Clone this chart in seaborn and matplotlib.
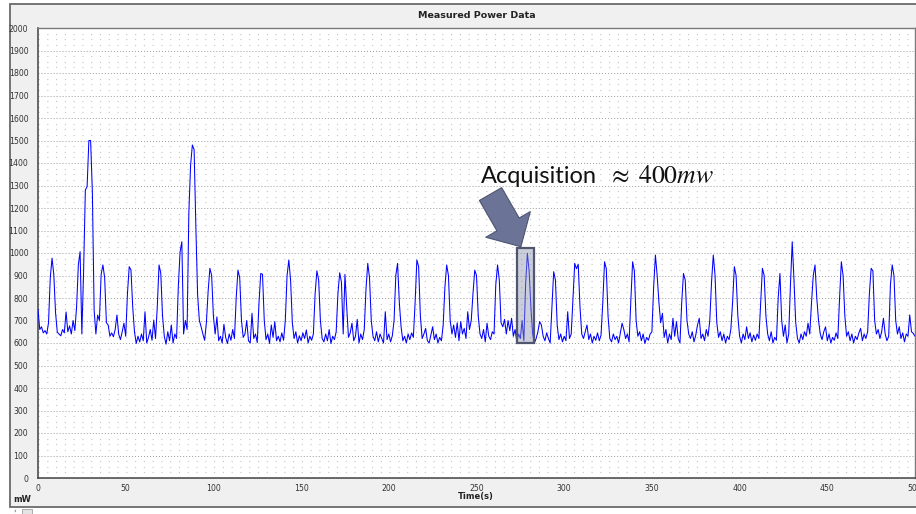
import numpy as np
import pandas as pd
import seaborn as sns
import matplotlib
matplotlib.use("Agg")
import matplotlib.pyplot as plt
from matplotlib.patches import Rectangle, FancyArrowPatch, ArrowStyle

# ---------------- data (1 sample per second) ----------------
time_s = list(range(0, 501))
power_mw = [
    750, 660, 672, 645, 655, 640, 690, 890, 977, 905,
    735, 648, 640, 632, 660, 645, 738, 650, 676, 640,
    700, 655, 760, 947, 1006, 640, 920, 1280, 1295, 1500,
    1500, 1270, 746, 640, 724, 700, 905, 947, 890, 690,
    680, 630, 645, 628, 660, 724, 640, 615, 650, 688,
    630, 820, 939, 925, 760, 650, 598, 630, 605, 640,
    610, 739, 600, 625, 660, 612, 702, 620, 760, 947,
    910, 720, 630, 595, 650, 610, 680, 600, 640, 620,
    850, 1005, 1050, 640, 700, 660, 1180, 1390, 1480, 1460,
    1115, 813, 700, 672, 640, 612, 690, 830, 932, 900,
    720, 640, 716, 610, 630, 600, 683, 625, 598, 640,
    612, 660, 620, 800, 924, 890, 700, 625, 640, 700,
    610, 600, 732, 620, 640, 602, 780, 909, 905, 700,
    615, 640, 598, 680, 625, 695, 610, 630, 605, 645,
    612, 700, 900, 969, 880, 690, 620, 650, 600, 632,
    610, 645, 620, 658, 600, 630, 612, 640, 820, 921,
    880, 700, 620, 605, 640, 610, 660, 598, 630, 615,
    650, 820, 912, 870, 640, 905, 760, 625, 645, 688,
    610, 630, 705, 600, 640, 615, 660, 840, 954, 890,
    700, 630, 610, 650, 605, 640, 620, 600, 739, 615,
    640, 605, 632, 700, 900, 954, 780, 672, 610, 630,
    600, 640, 615, 645, 625, 780, 969, 940, 720, 620,
    640, 665, 610, 600, 635, 672, 615, 640, 600, 625,
    610, 680, 850, 947, 900, 700, 640, 680, 625, 690,
    610, 695, 640, 665, 620, 739, 660, 700, 820, 924,
    900, 720, 640, 620, 660, 605, 688, 630, 615, 650,
    640, 860, 947, 880, 690, 672, 705, 640, 700, 655,
    710, 630, 660, 605, 640, 620, 700, 610, 860, 999,
    920, 760, 640, 600, 620, 650, 695, 680, 630, 610,
    645, 620, 600, 760, 917, 880, 680, 615, 640, 605,
    630, 610, 739, 620, 640, 800, 954, 930, 950, 760,
    640, 620, 650, 680, 615, 640, 600, 630, 612, 645,
    610, 635, 780, 961, 930, 720, 620, 605, 640, 615,
    630, 600, 645, 688, 660, 620, 640, 605, 790, 961,
    920, 700, 630, 650, 610, 640, 598, 625, 612, 640,
    650, 850, 991, 900, 780, 690, 732, 625, 660, 600,
    640, 615, 710, 630, 695, 620, 600, 780, 909, 880,
    700, 640, 620, 650, 605, 635, 680, 710, 620, 640,
    610, 660, 630, 700, 870, 991, 900, 690, 625, 650,
    610, 640, 600, 630, 615, 660, 780, 939, 900, 720,
    630, 600, 640, 615, 672, 620, 645, 605, 635, 612,
    640, 620, 780, 932, 900, 720, 640, 610, 650, 600,
    625, 612, 800, 909, 700, 630, 680, 600, 640, 860,
    1050, 880, 690, 620, 600, 640, 615, 650, 630, 688,
    640, 780, 900, 947, 800, 700, 640, 615, 650, 672,
    610, 640, 600, 625, 612, 645, 620, 800, 961, 900,
    720, 630, 650, 610, 640, 600, 630, 615, 645, 665,
    610, 640, 620, 650, 820, 932, 920, 700, 640, 660,
    620, 650, 710, 640, 610, 630, 860, 947, 900, 700,
    640, 672, 620, 645, 605, 640, 630, 725, 650, 643,
    630,
]

x_ticks = list(range(0, 501, 50))
y_ticks = list(range(0, 2001, 100))

title_text = "Measured Power Data"
x_label = "Time(s)"
y_unit = "mW"
note_word = "Acquisition"
note_math = r"$\approx\;400mw$"

# highlighted acquisition window
acq_t = (273.0, 282.7)
acq_v = (600.0, 1021.0)

df = pd.DataFrame({"t": time_s, "p": power_mw})

# ---------------- figure ----------------
sns.set_style("white")
plt.rcParams["font.family"] = ["DejaVu Sans"]
plt.rcParams["mathtext.fontset"] = "stix"

W, H = 916, 514
fig = plt.figure(figsize=(W / 100, H / 100), dpi=100)
fig.patch.set_facecolor("white")

# grey panel with frame (behind the axes)
panel = Rectangle((10 / W, 1 - 507 / H), 1.0, (507 - 4) / H, transform=fig.transFigure,
                  facecolor="#f0f0f0", edgecolor="#6a6a6a", linewidth=1.3, zorder=-10)
fig.add_artist(panel)
fig.add_artist(Rectangle((22 / W, 1 - 514 / H), 10 / W, 5 / H, transform=fig.transFigure,
                         facecolor="#e4e4e4", edgecolor="#a0a0a0", linewidth=0.6, zorder=-9))
fig.text(15 / W, 1 - 511 / H, "‹", fontsize=5, color="#555555", ha="center", va="center")

ax = fig.add_axes([38 / W, (H - 478) / H, 877 / W, 450 / H])
ax.set_zorder(1)
ax.set_facecolor("white")

sns.lineplot(data=df, x="t", y="p", ax=ax, color="#0000ff", linewidth=0.75,
             estimator=None, zorder=3)

ax.set_xlim(0, 500)
ax.set_ylim(0, 2000)
ax.set_xticks(x_ticks)
ax.set_xticklabels([str(v) for v in x_ticks])
ax.set_yticks(y_ticks)
ax.set_yticklabels([str(v) for v in y_ticks])
ax.set_yticks(np.arange(0, 2001, 25), minor=True)
ax.set_xlabel("")
ax.set_ylabel("")

ax.grid(which="major", axis="y", color="#9a9a9a", linestyle=(0, (1, 2.1)), linewidth=0.7, zorder=1)
ax.grid(which="minor", axis="y", color="#c4c4c4", linestyle=(0, (1, 6.9)), linewidth=0.8, zorder=1)
ax.grid(which="major", axis="x", visible=False)

ax.tick_params(axis="y", which="major", direction="out", length=5, width=1, colors="#404040",
               labelsize=5.6, labelcolor="#333333", pad=2)
ax.tick_params(axis="x", which="major", direction="in", length=5, width=1, colors="#404040",
               labelsize=5.6, labelcolor="#333333", pad=4)
ax.tick_params(which="minor", length=0)

for side in ["left", "bottom"]:
    ax.spines[side].set_color("#404040")
    ax.spines[side].set_linewidth(1.1)
for side in ["top", "right"]:
    ax.spines[side].set_color("#7a7a7a")
    ax.spines[side].set_linewidth(1.0)

# annotation: highlighted window + arrow + text
ax.add_patch(Rectangle((acq_t[0], acq_v[0]), acq_t[1] - acq_t[0], acq_v[1] - acq_v[0],
                       facecolor="#8c93ad", alpha=0.45, edgecolor="none", zorder=4))
ax.add_patch(Rectangle((acq_t[0], acq_v[0]), acq_t[1] - acq_t[0], acq_v[1] - acq_v[0],
                       facecolor="none", edgecolor="#50566e", linewidth=1.6, zorder=5))
arrow = FancyArrowPatch((258.0, 1262), (275.3, 1028),
                        arrowstyle=ArrowStyle.Simple(head_length=0.5, head_width=1.0, tail_width=0.5),
                        mutation_scale=37, shrinkA=0, shrinkB=0,
                        facecolor="#6b7396", edgecolor="#4e5573", linewidth=0.8, zorder=5)
ax.add_patch(arrow)
ax.text(252.3, 1311, note_word, fontsize=17, family="Lato", color="#111111",
        ha="left", va="baseline", zorder=6)
ax.text(324.8, 1311, note_math, fontsize=18.5, color="#111111",
        ha="left", va="baseline", zorder=6)

fig.text((38 + 915) / 2 / W, 1 - 16 / H, title_text, ha="center", va="center",
         fontsize=6.8, fontweight="bold", color="#222222")
fig.text(476 / W, 1 - 496 / H, x_label, ha="center", va="center",
         fontsize=6, fontweight="bold", color="#222222")
fig.text(13 / W, 1 - 500 / H, y_unit, ha="left", va="center",
         fontsize=6, fontweight="bold", color="#222222")

fig.savefig("out.png", dpi=100)
